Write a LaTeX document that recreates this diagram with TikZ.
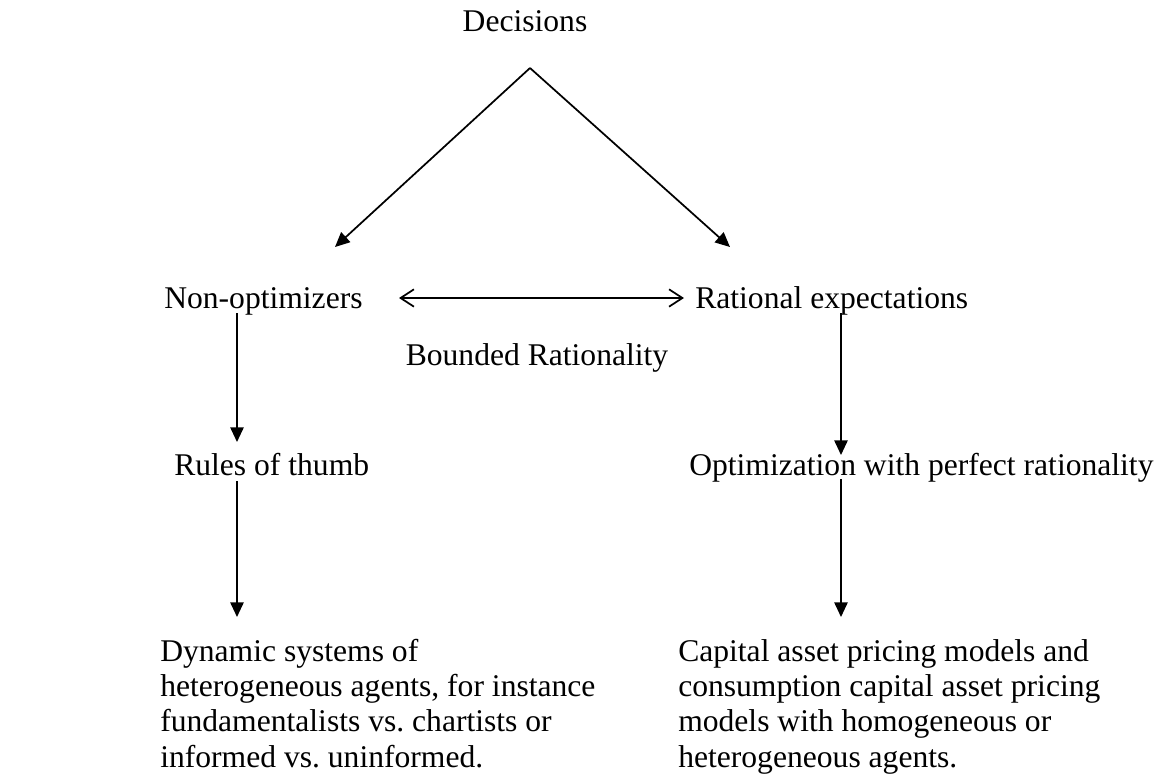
\documentclass[tikz,border=0pt]{standalone}
\usepackage{fontspec}
\setmainfont{Liberation Serif}
\usetikzlibrary{arrows.meta}
\begin{document}
\begin{tikzpicture}[x=0.75pt,y=-0.75pt,
  label/.style={font=\fontsize{23.7}{26.4}\selectfont, inner sep=0pt},
  block/.style={label, align=left, anchor=base west},
  conn/.style={line width=1.3pt, -{Triangle[length=11pt,width=10pt]}},
  twoway/.style={line width=1.3pt, {Straight Barb[length=10pt,width=13pt]}-{Straight Barb[length=10pt,width=13pt]}}]
  \useasboundingbox (0,0) rectangle (1172,783);

  % labels (the text blocks are placed by the baseline of their last line)
  \node[label, anchor=base] (dec) at (525,31) {Decisions};
  \node[label, anchor=base west] (nonopt) at (164,308) {Non-optimizers};
  \node[label, anchor=base west] (ratexp) at (695,308) {Rational expectations};
  \node[label, anchor=base] (bounded) at (537,365) {Bounded Rationality};
  \node[label, anchor=base west] (rules) at (174,475) {Rules of thumb};
  \node[label, anchor=base west] (optim) at (689,475) {Optimization with perfect rationality};
  \node[block] (dyn) at (160,767) {Dynamic systems of\\heterogeneous agents, for instance\\fundamentalists vs.\ chartists or\\informed vs.\ uninformed.};
  \node[block] (capm) at (678,767) {Capital asset pricing models and\\consumption capital asset pricing\\models with homogeneous or\\heterogeneous agents.};

  % connector end points
  \coordinate (apex) at (530,68);
  \coordinate (nonoptTop) at (335,247);
  \coordinate (ratexpTop) at (730,247);
  \coordinate (pairL) at (399,298);
  \coordinate (pairR) at (684,298);
  \coordinate (lA) at (237,313);
  \coordinate (lB) at (237,442);
  \coordinate (lC) at (237,481);
  \coordinate (lD) at (237,617);
  \coordinate (rA) at (841,313);
  \coordinate (rB) at (841,455);
  \coordinate (rC) at (841,479);
  \coordinate (rD) at (841,617);

  % connectors
  \draw[conn] (apex) -- (nonoptTop);
  \draw[conn] (apex) -- (ratexpTop);
  \draw[twoway] (pairL) -- (pairR);
  \draw[conn] (lA) -- (lB);
  \draw[conn] (lC) -- (lD);
  \draw[conn] (rA) -- (rB);
  \draw[conn] (rC) -- (rD);
\end{tikzpicture}
\end{document}
